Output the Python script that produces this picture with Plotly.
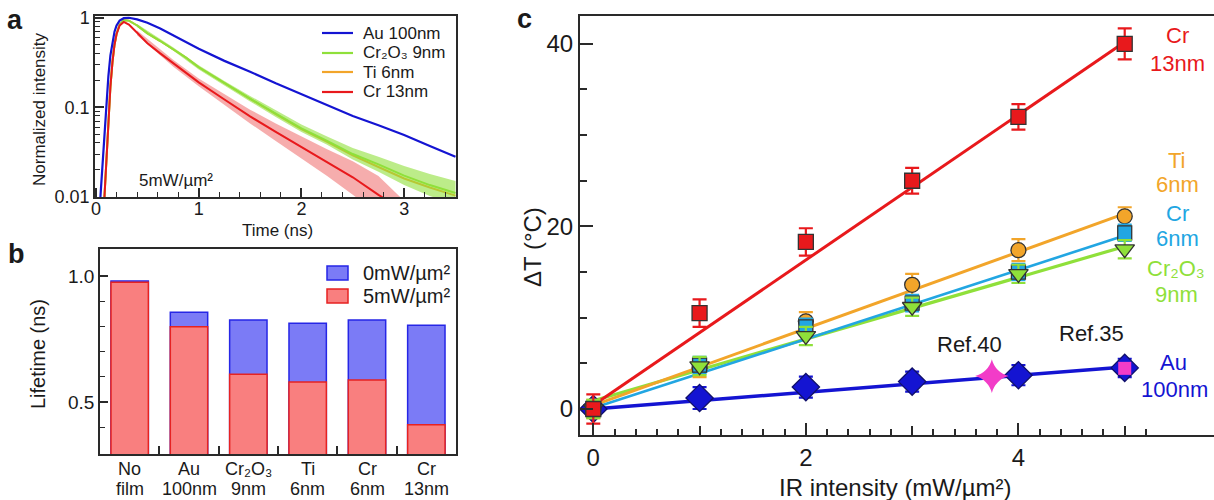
import plotly.graph_objects as go

W, H = 1214, 500
FONT = "Liberation Sans, Arial, Helvetica, sans-serif"
INK = "#1a1a1a"
FRAME = "#2a2a2a"

# ---------------- panel a: normalized decay at 5 mW/µm² ----------------
time_ns = [0.02, 0.04, 0.06, 0.08, 0.10, 0.12, 0.14, 0.16, 0.18, 0.20, 0.23, 0.27,
           0.32, 0.40, 0.50, 0.625, 0.75, 0.875, 1.0, 1.25, 1.5, 1.75, 2.0, 2.25,
           2.5, 2.75, 3.0, 3.25, 3.5]
decay_au100 = [0.004, 0.009, 0.022, 0.05, 0.11, 0.22, 0.38, 0.55, 0.70, 0.82, 0.93, 0.99,
               1.0, 0.96, 0.88, 0.76, 0.64, 0.54, 0.45, 0.33, 0.25, 0.185, 0.14, 0.105,
               0.08, 0.063, 0.049, 0.037, 0.028]
decay_cr2o3 = [0.002, 0.003, 0.005, 0.009, 0.025, 0.07, 0.17, 0.32, 0.50, 0.66, 0.84, 0.94,
               0.93, 0.82, 0.67, 0.55, 0.45, 0.36, 0.28, 0.185, 0.125, 0.085, 0.058, 0.042,
               0.030, 0.023, 0.0172, 0.0135, 0.011]
decay_ti6 = [0.002, 0.003, 0.005, 0.009, 0.025, 0.07, 0.17, 0.32, 0.50, 0.66, 0.84, 0.94,
             0.93, 0.82, 0.67, 0.55, 0.45, 0.36, 0.28, 0.185, 0.124, 0.084, 0.057, 0.041,
             0.029, 0.0215, 0.0160, 0.0127, 0.0103]
decay_cr13 = [0.002, 0.003, 0.005, 0.009, 0.025, 0.07, 0.17, 0.32, 0.50, 0.66, 0.82, 0.90,
              0.84, 0.68, 0.52, 0.40, 0.31, 0.245, 0.19, 0.122, 0.079, 0.053, 0.036, 0.0245,
              0.0165, 0.0105, 0.0068, 0.0045, 0.003]

# spread of the raw photon counts around the Cr2O3 and Cr 13nm fits
band_t = [0.4, 0.75, 1.0, 1.25, 1.5, 1.75, 2.0, 2.25, 2.5, 2.75, 3.0, 3.25, 3.5]
cr2o3_hi = [0.85, 0.47, 0.295, 0.196, 0.134, 0.092, 0.064, 0.047, 0.035, 0.028, 0.022, 0.018, 0.015]
cr2o3_lo = [0.79, 0.43, 0.265, 0.174, 0.116, 0.078, 0.053, 0.038, 0.026, 0.019, 0.0135, 0.0102, 0.0082]
cr13_hi = [0.72, 0.34, 0.21, 0.14, 0.094, 0.066, 0.047, 0.034, 0.025, 0.017, 0.009, 0.006, 0.004]
cr13_lo = [0.64, 0.285, 0.172, 0.106, 0.066, 0.042, 0.027, 0.017, 0.0105, 0.0065, 0.004, 0.003, 0.002]

# ---------------- panel b: lifetimes ----------------
film_names = ["No", "Au", "Cr₂O₃", "Ti", "Cr", "Cr"]
film_thickness = ["film", "100nm", "9nm", "6nm", "6nm", "13nm"]
lifetime_0mw = [0.980, 0.856, 0.825, 0.813, 0.825, 0.805]
lifetime_5mw = [0.975, 0.799, 0.610, 0.580, 0.587, 0.410]
films = [f"{n} {t}" for n, t in zip(film_names, film_thickness)]

# ---------------- panel c: temperature rise vs IR intensity ----------------
ir_intensity = [0, 1, 2, 3, 4, 5]
dT_cr13 = [0.0, 10.5, 18.3, 25.0, 32.0, 40.0]
err_cr13 = [1.6, 1.5, 1.5, 1.4, 1.4, 1.7]
dT_ti6 = [0.0, 4.5, 9.6, 13.6, 17.4, 21.1]
err_ti6 = [1.0, 1.0, 1.0, 1.2, 1.2, 1.0]
dT_cr6 = [0.0, 4.8, 9.0, 11.6, 15.0, 19.3]
err_cr6 = [0.9, 0.9, 0.9, 0.9, 0.9, 0.9]
dT_cr2o3 = [0.0, 4.7, 8.0, 11.2, 14.8, 17.5]
err_cr2o3 = [1.0, 1.0, 1.0, 1.0, 1.0, 1.0]
dT_au100 = [0.0, 1.2, 2.4, 3.0, 3.7, 4.5]
err_au100 = [0.6, 1.2, 1.15, 1.1, 1.1, 1.0]
ref40_x, ref40_y = [3.75], [3.6]
ref35_x, ref35_y = [5.0], [4.45]

# linear fits (slope, intercept)
fit_cr13 = (7.96, 0.4)
fit_ti6 = (4.20, 0.4)
fit_cr6 = (3.78, 0.1)
fit_cr2o3 = (3.38, 0.9)
fit_au100 = (0.92, 0.0)

C_RED = "#e8191c"
C_ORANGE = "#f2a52a"
C_CYAN = "#22a6e2"
C_GREEN = "#8fe03a"
C_BLUE = "#1414d2"
C_PINK = "#f23cc8"


def px(x):
    return x / W


def py(y):
    return 1 - y / H


fig = go.Figure()

# ---- panel a traces ----
fig.add_trace(go.Scatter(x=time_ns, y=decay_ti6, mode="lines",
                         line=dict(color=C_ORANGE, width=2), xaxis="x", yaxis="y"))
fig.add_trace(go.Scatter(x=band_t, y=cr2o3_hi, mode="lines", line=dict(width=0),
                         xaxis="x", yaxis="y", hoverinfo="skip"))
fig.add_trace(go.Scatter(x=band_t, y=cr2o3_lo, mode="lines", line=dict(width=0),
                         fill="tonexty", fillcolor="rgba(143,224,58,0.6)",
                         xaxis="x", yaxis="y", hoverinfo="skip"))
fig.add_trace(go.Scatter(x=time_ns, y=decay_cr2o3, mode="lines",
                         line=dict(color=C_GREEN, width=2), xaxis="x", yaxis="y"))
fig.add_trace(go.Scatter(x=band_t, y=cr13_hi, mode="lines", line=dict(width=0),
                         xaxis="x", yaxis="y", hoverinfo="skip"))
fig.add_trace(go.Scatter(x=band_t, y=cr13_lo, mode="lines", line=dict(width=0),
                         fill="tonexty", fillcolor="rgba(232,40,40,0.38)",
                         xaxis="x", yaxis="y", hoverinfo="skip"))
fig.add_trace(go.Scatter(x=time_ns, y=decay_cr13, mode="lines",
                         line=dict(color=C_RED, width=2), xaxis="x", yaxis="y"))
fig.add_trace(go.Scatter(x=time_ns, y=decay_au100, mode="lines",
                         line=dict(color=C_BLUE, width=2.2), xaxis="x", yaxis="y"))

# ---- panel b traces ----
fig.add_trace(go.Bar(x=films, y=lifetime_0mw, width=0.63, xaxis="x2", yaxis="y2",
                     marker=dict(color="#7b7bf6", line=dict(color="#2626e6", width=1.5))))
fig.add_trace(go.Bar(x=films, y=lifetime_5mw, width=0.63, xaxis="x2", yaxis="y2",
                     marker=dict(color="#f97f7f", line=dict(color="#e62222", width=1.5))))

# ---- panel c traces ----
x_fit = [min(ir_intensity), max(ir_intensity)]
for (slope, icpt), col, w in [(fit_au100, C_BLUE, 3.5), (fit_cr2o3, C_GREEN, 3.2),
                              (fit_cr6, C_CYAN, 2.6), (fit_ti6, C_ORANGE, 3.0),
                              (fit_cr13, C_RED, 3.0)]:
    fig.add_trace(go.Scatter(x=x_fit, y=[icpt + slope * v for v in x_fit], mode="lines",
                             line=dict(color=col, width=w), xaxis="x3", yaxis="y3"))

series_c = [
    (dT_au100, err_au100, C_BLUE, "diamond", 21, "#10106a"),
    (dT_ti6, err_ti6, C_ORANGE, "circle", 15, "#333333"),
    (dT_cr6, err_cr6, C_CYAN, "square", 14, "#333333"),
    (dT_cr2o3, err_cr2o3, C_GREEN, "triangle-down", 17, "#333333"),
    (dT_cr13, err_cr13, C_RED, "square", 15, "#333333"),
]
for ys, es, col, sym, size, edge in series_c:
    fig.add_trace(go.Scatter(
        x=ir_intensity, y=ys, mode="markers", xaxis="x3", yaxis="y3",
        marker=dict(symbol=sym, size=size, color=col, line=dict(color=edge, width=1.3)),
        error_y=dict(type="data", array=es, color=col, thickness=2.2, width=7)))

fig.add_trace(go.Scatter(x=ref40_x, y=ref40_y, mode="markers", xaxis="x3", yaxis="y3",
                         marker=dict(symbol="star-diamond", size=24, color=C_PINK,
                                     line=dict(width=0))))
fig.add_trace(go.Scatter(x=ref35_x, y=ref35_y, mode="markers", xaxis="x3", yaxis="y3",
                         marker=dict(symbol="square", size=13, color=C_PINK,
                                     line=dict(width=0))))
# carrier for the secondary (unlabelled, odd-integer) tick axis of panel c
fig.add_trace(go.Scatter(x=[None], y=[None], mode="markers", xaxis="x4", yaxis="y3",
                         hoverinfo="skip"))

# ---- axes ----
axis_common = dict(showgrid=False, zeroline=False, showline=True, linecolor=FRAME,
                   ticks="inside", tickcolor=FRAME, automargin=False)

minor_t = [round(0.2 * k, 1) for k in range(1, 18) if k % 5 != 0]
minor_log = [m * d for d in (0.01, 0.1) for m in range(2, 10)]
minor_c = [round(0.2 * k, 1) for k in range(1, 27) if k % 5 != 0]

fig.update_layout(
    xaxis=dict(axis_common, domain=[px(95), px(456)], range=[-0.01, 3.505], anchor="y",
               mirror=True, linewidth=1.5, tickvals=[0, 1, 2, 3], ticklen=9, tickwidth=1.5,
               ticklabelstandoff=-5,
               minor=dict(tickvals=minor_t, ticklen=5, ticks="inside", tickwidth=1.2,
                          tickcolor=FRAME),
               tickfont=dict(size=18, color=INK, family=FONT)),
    yaxis=dict(axis_common, type="log", domain=[py(197), py(16)], range=[-2.003, 0.02],
               anchor="x", mirror=True, linewidth=1.5, tickvals=[0.01, 0.1, 1],
               ticktext=["0.01", "0.1", "1"], ticklen=9, tickwidth=1.5,
               minor=dict(tickvals=minor_log, ticklen=5, ticks="inside", tickwidth=1.2,
                          tickcolor=FRAME),
               tickfont=dict(size=18, color=INK, family=FONT)),
    xaxis2=dict(axis_common, type="category", domain=[px(100), px(456)], range=[-0.5, 5.5],
                anchor="y2", mirror=True, linewidth=1.5, tickson="boundaries", ticklen=8,
                tickwidth=1.5, showticklabels=False),
    yaxis2=dict(axis_common, domain=[py(454), py(249)], range=[0.294, 1.107], anchor="x2",
                mirror=True, linewidth=1.5, tickvals=[0.5, 1.0], ticktext=["0.5", "1.0"],
                ticklen=8, tickwidth=1.5,
                minor=dict(tickvals=[0.4, 0.6, 0.7, 0.8, 0.9], ticklen=5, ticks="inside",
                           tickwidth=1.2, tickcolor=FRAME),
                tickfont=dict(size=19, color=INK, family=FONT)),
    xaxis3=dict(axis_common, domain=[px(580), 1.0], range=[-0.125, 5.84], anchor="y3",
                mirror=True, linewidth=2, tickvals=[0, 2, 4], ticklen=12, tickwidth=2,
                minor=dict(tickvals=minor_c, ticklen=6, ticks="inside", tickwidth=1.6,
                           tickcolor=FRAME),
                tickfont=dict(size=24, color=INK, family=FONT)),
    xaxis4=dict(showgrid=False, zeroline=False, showline=False, automargin=False,
                domain=[px(580), 1.0], range=[-0.125, 5.84], anchor="y3", overlaying="x3",
                tickvals=[1, 3, 5], ticks="inside", ticklen=9, tickwidth=2,
                tickcolor=FRAME, showticklabels=False),
    yaxis3=dict(axis_common, domain=[py(435), py(15.7)], range=[-2.85, 43.08], anchor="x3",
                mirror=False, linewidth=2, tickvals=[0, 20, 40], ticklen=13, tickwidth=2,
                minor=dict(tickvals=[5, 10, 15, 25, 30, 35], ticklen=7, ticks="inside",
                           tickwidth=1.6, tickcolor=FRAME),
                tickfont=dict(size=24, color=INK, family=FONT)),
    barmode="overlay",
    showlegend=False,
    width=W, height=H,
    margin=dict(l=0, r=0, t=0, b=0, autoexpand=False),
    paper_bgcolor="white", plot_bgcolor="white",
    font=dict(family=FONT, color=INK),
)


def text(x, y, s, size, color=INK, angle=0, bold=False, anchor="center"):
    fig.add_annotation(x=px(x), y=py(y), xref="paper", yref="paper", text=s,
                       showarrow=False, textangle=angle, xanchor=anchor, yanchor="middle",
                       borderpad=0,
                       font=dict(size=size, color=color, family=FONT,
                                 weight="bold" if bold else "normal"))


# panel letters
text(15, 20, "a", 27, bold=True)
text(16, 254, "b", 27, bold=True)
text(524, 19, "c", 27, bold=True)

# axis titles
text(40, 109, "Normalized intensity", 17, angle=-90)
text(277, 231, "Time (ns)", 17)
text(38, 354, "Lifetime (ns)", 20, angle=-90)
text(532, 247, "ΔT (°C)", 24, angle=-90)
text(895, 487, "IR intensity (mW/µm²)", 24)

# panel b category labels (two lines under each bar)
for i, (name, thick) in enumerate(zip(film_names, film_thickness)):
    for s, yy in ((name, 469), (thick, 489)):
        fig.add_annotation(x=i, y=py(yy), xref="x2", yref="paper", text=s, showarrow=False,
                           xanchor="center", yanchor="middle", borderpad=0,
                           font=dict(size=18, color=INK, family=FONT))

# panel a legend and condition
legend_a = [("Au 100nm", C_BLUE, 33), ("Cr₂O₃ 9nm", C_GREEN, 53),
            ("Ti 6nm", C_ORANGE, 72), ("Cr 13nm", C_RED, 92)]
for label, col, yy in legend_a:
    fig.add_shape(type="line", xref="paper", yref="paper", x0=px(322), x1=px(353),
                  y0=py(yy), y1=py(yy), line=dict(color=col, width=2.2))
    text(362, yy, label, 17, anchor="left")
text(176, 180, "5mW/µm²", 17)

# panel b legend
legend_b = [("0mW/µm²", "#7b7bf6", "#2626e6", 273), ("5mW/µm²", "#f97f7f", "#e62222", 296)]
for label, fillc, edge, yy in legend_b:
    fig.add_shape(type="rect", xref="paper", yref="paper", x0=px(327), x1=px(348),
                  y0=py(yy + 7), y1=py(yy - 7), fillcolor=fillc, line=dict(color=edge, width=1.5))
    text(362, yy, label, 20, anchor="left")

# panel c series labels
labels_c = [("Cr", 1177, 36, C_RED), ("13nm", 1177, 63, C_RED),
            ("Ti", 1177, 160, C_ORANGE), ("6nm", 1177, 184, C_ORANGE),
            ("Cr", 1177, 214, C_CYAN), ("6nm", 1177, 238, C_CYAN),
            ("Cr₂O₃", 1176, 268, C_GREEN), ("9nm", 1176, 294, C_GREEN),
            ("Au", 1173, 362, C_BLUE), ("100nm", 1174, 389, C_BLUE)]
for s, xx, yy, col in labels_c:
    text(xx, yy, s, 22, color=col)
text(969, 344, "Ref.40", 22)
text(1091, 333, "Ref.35", 22)

fig.write_html("out.html")
